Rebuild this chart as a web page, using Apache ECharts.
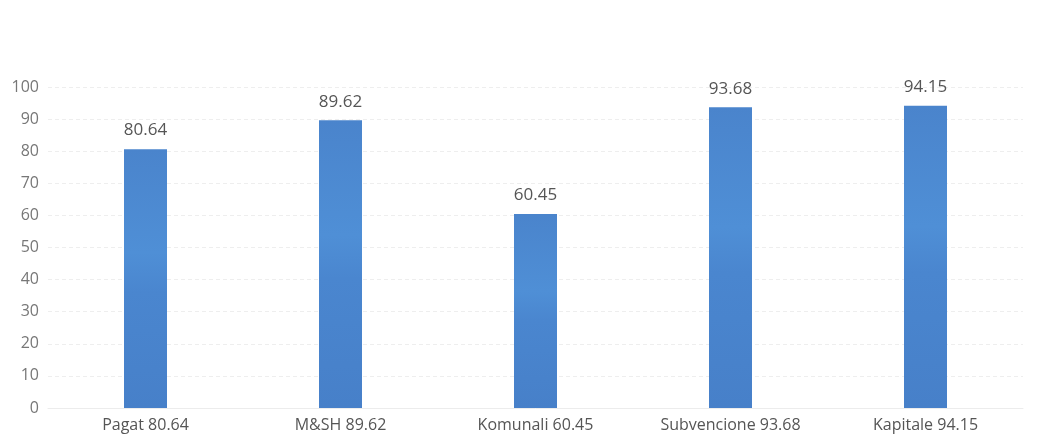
<!DOCTYPE html>
<html>
<head>
<meta charset="utf-8">
<script src="https://cdn.jsdelivr.net/npm/echarts@6/dist/echarts.min.js"></script>
<style>
  html, body { margin: 0; padding: 0; background: #fff; }
  #main { width: 1047px; height: 443px; }
</style>
</head>
<body>
<div id="main"></div>
<script>
var categories = ['Pagat 80.64', 'M&SH 89.62', 'Komunali 60.45', 'Subvencione 93.68', 'Kapitale 94.15'];
var values = [80.64, 89.62, 60.45, 93.68, 94.15];
var yTicks = [0, 10, 20, 30, 40, 50, 60, 70, 80, 90, 100];

var myChart = echarts.init(document.getElementById('main'));

var option = {
    backgroundColor: '#ffffff',
    textStyle: { fontFamily: 'Open Sans' },
    grid: { left: 48, right: 24, top: 87, bottom: 35 },
    xAxis: {
        type: 'category',
        data: categories,
        axisLine: { show: true, lineStyle: { color: '#ececec' } },
        axisTick: { show: false },
        axisLabel: { color: '#555', fontSize: 16, margin: 9 }
    },
    yAxis: {
        type: 'value',
        min: yTicks[0],
        max: yTicks[yTicks.length - 1],
        interval: 10,
        axisLine: { show: false },
        axisTick: { show: false },
        axisLabel: { color: '#777', fontSize: 16, margin: 9 },
        splitLine: { lineStyle: { color: '#eeeeee', type: [4, 3] } }
    },
    series: [{
        type: 'bar',
        data: values,
        barWidth: 43,
        itemStyle: {
            color: new echarts.graphic.LinearGradient(0, 0, 0, 1, [
                { offset: 0, color: '#4a84cc' },
                { offset: 0.4, color: '#4f8fd6' },
                { offset: 0.55, color: '#4a86cf' },
                { offset: 1, color: '#4780c9' }
            ])
        },
        label: {
            show: true,
            position: 'top',
            distance: 10,
            color: '#555',
            fontSize: 17,
            formatter: function (p) { return p.value.toFixed(2); }
        }
    }]
};

myChart.setOption(option);
</script>
</body>
</html>
